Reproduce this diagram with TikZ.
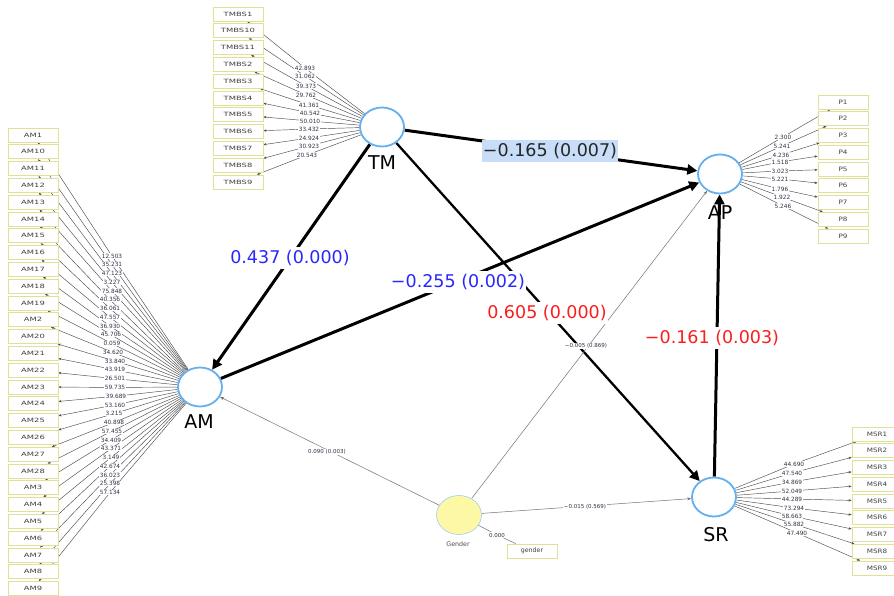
\documentclass[tikz,border=0pt]{standalone}
\usepackage{fontspec}
\setmainfont{DejaVu Sans}
\newfontfamily\widefont[FakeStretch=1.45]{DejaVu Sans}
\newfontfamily\medfont[FakeStretch=1.2]{DejaVu Sans}
\usetikzlibrary{shapes.geometric,arrows.meta,backgrounds}
\definecolor{lvblue}{RGB}{100,175,240}
\definecolor{boxc}{RGB}{225,225,150}
\definecolor{gfill}{RGB}{252,248,165}
\definecolor{pblue}{RGB}{40,40,250}
\definecolor{pred}{RGB}{250,30,30}
\definecolor{hl}{RGB}{200,222,248}
\definecolor{labc}{RGB}{50,50,70}
\begin{document}
\begin{tikzpicture}[x=1pt,y=-1pt,
  lv/.style={ellipse, draw=lvblue, line width=1.8pt, fill=white, minimum width=44pt, minimum height=39pt, inner sep=0pt},
  gv/.style={ellipse, draw=lvblue!70, line width=0.5pt, fill=gfill, minimum width=45pt, minimum height=39pt, inner sep=0pt},
  lvname/.style={font=\fontsize{19}{22}\selectfont, inner sep=0pt},
  ind/.style={rectangle, draw=boxc, line width=0.8pt, fill=white, minimum width=50pt, minimum height=14pt, inner sep=0pt, font=\widefont\fontsize{5.8}{6}\selectfont, text=black!75},
  indm/.style={ind, font=\medfont\fontsize{6}{6}\selectfont},
  ilab/.style={fill=white, inner sep=0.4pt, font=\fontsize{5.8}{6.5}\selectfont, text=labc},
  ilink/.style={draw=black!70, line width=0.45pt, -{Stealth[length=3pt,width=2.4pt]}},
  strong/.style={draw=black, line width=3pt, -{Triangle[length=10pt,width=10pt]}},
  plab/.style={fill=white, inner xsep=1pt, inner ysep=3pt, font=\fontsize{17.5}{20}\selectfont},
  slab/.style={fill=white, inner sep=0.5pt, font=\fontsize{5.5}{6}\selectfont, text=labc},
  glink/.style={draw=black!55, line width=0.5pt, -{Stealth[length=4pt,width=3pt]}}
]
\useasboundingbox (0,0) rectangle (894,596);
\begin{pgfonlayer}{background}
  \fill[white] (0,0) rectangle (894,596);
\end{pgfonlayer}

% latent variables
\node[lv] (TM) at (382,127) {};
\node[lv] (AP) at (720,174) {};
\node[lv] (AM) at (200,387) {};
\node[lv] (SR) at (714,497) {};
\node[gv] (Gender) at (459,515) {};
\node[lvname] (TMn) at (382,163) {TM};
\node[lvname] (APn) at (720,213) {AP};
\node[lvname] (AMn) at (199,422) {AM};
\node[lvname] (SRn) at (716,535) {SR};
\node[font=\fontsize{6.3}{7}\selectfont, text=black!70] (Gn) at (458,544) {Gender};
\node[ind, font=\fontsize{6.3}{7}\selectfont] (gbox) at (532,551) {gender};

% TM indicators
\foreach \n/\v/\lx/\ly [count=\i from 0] in {TMBS1/42.893/305/68, TMBS10/31.062/305/76, TMBS11/39.373/306/86, TMBS2/29.762/306/95, TMBS3/41.361/309/105, TMBS4/40.542/310/113, TMBS5/50.010/310/121, TMBS6/33.432/309/129, TMBS7/24.924/309/138, TMBS8/30.923/309/146, TMBS9/20.543/307/155}{
  \node[ind] (tb\i) at (238,14+16.8*\i) {\n};
  \node[ilab] (tl\i) at (\lx,\ly) {\v};
}
% AP indicators
\foreach \n/\v/\lx/\ly [count=\i from 0] in {P1/2.300/783/137, P2/5.241/782/146, P3/4.236/781/155, P4/1.518/780/162, P5/3.023/780/171, P6/5.221/780/179, P7/1.796/780/189, P8/1.922/782/197, P9/5.246/783/206}{
  \node[indm] (pb\i) at (843,102+16.75*\i) {\n};
  \node[ilab] (pl\i) at (\lx,\ly) {\v};
}
% SR indicators
\foreach \n/\v/\lx/\ly [count=\i from 0] in {MSR1/44.690/794/464, MSR2/47.540/792/473, MSR3/34.869/792/482, MSR4/52.049/792/491, MSR5/44.289/792/499, MSR6/73.294/794/508, MSR7/58.663/792/516, MSR8/55.882/794/524, MSR9/47.490/797/533}{
  \node[indm] (sb\i) at (877,434+16.75*\i) {\n};
  \node[ilab] (sl\i) at (\lx,\ly) {\v};
}
% AM indicators
\foreach \n/\v/\lx [count=\i from 0] in {AM1/12.503/112, AM10/35.231/112, AM11/47.123/112, AM12/3.227/112, AM13/75.848/112, AM14/40.356/110, AM15/36.061/110, AM16/47.557/110, AM17/36.930/110, AM18/45.706/111, AM19/0.059/112, AM2/34.620/113, AM20/33.840/115, AM21/43.919/115, AM22/26.501/115, AM23/59.735/115, AM24/39.689/116, AM25/53.160/115, AM26/3.215/114, AM27/40.898/114, AM28/57.455/112, AM3/34.409/111, AM4/43.371/111, AM5/3.149/111, AM6/42.674/110, AM7/36.023/110, AM8/25.398/110, AM9/57.134/110}{
  \node[ind] (ab\i) at (33,135+16.8*\i) {\n};
  \node[ilab] (al\i) at (\lx,256+8.76*\i) {\v};
}

% path labels
\node[plab, fill=hl, text=black!85] (l1) at (550,151) {−0.165 (0.007)};
\node[plab, text=pblue] (l2) at (290,258) {0.437 (0.000)};
\node[plab, text=pblue] (l3) at (458,282) {−0.255 (0.002)};
\node[plab, text=pred] (l4) at (547,313) {0.605 (0.000)};
\node[plab, text=pred] (l5) at (712,338) {−0.161 (0.003)};
\node[slab] (l6) at (586,346) {−0.005 (0.869)};
\node[slab] (l7) at (327,452) {0.090 (0.003)};
\node[slab] (l8) at (585,507) {−0.015 (0.569)};
\node[slab] (l9) at (497,535) {0.000};

\begin{pgfonlayer}{background}
  \foreach \i in {0,...,10} \draw[ilink] (TM) -- (tl\i.center) -- (tb\i);
  \foreach \i in {0,...,8} \draw[ilink] (AP) -- (pl\i.center) -- (pb\i);
  \foreach \i in {0,...,8} \draw[ilink] (SR) -- (sl\i.center) -- (sb\i);
  \foreach \i in {0,...,27} \draw[ilink] (AM) -- (al\i.center) -- (ab\i);
  \draw[strong] (TM) -- (AP);
  \draw[strong] (TM) -- (AM);
  \draw[strong] (AM) -- (AP);
  \draw[strong, line width=2.3pt] (TM) -- (SR);
  \draw[strong] (SR) -- (AP);
  \draw[glink] (Gender) -- (AP);
  \draw[glink] (Gender) -- (AM);
  \draw[glink] (Gender) -- (SR);
  \draw[draw=black!55, line width=0.5pt] (Gender) -- (l9.center) -- (gbox);
\end{pgfonlayer}
\end{tikzpicture}
\end{document}
